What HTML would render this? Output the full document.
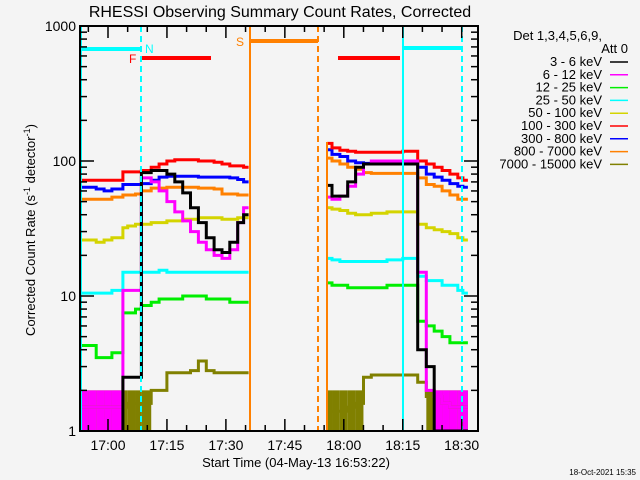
<!DOCTYPE html>
<html><head><meta charset="utf-8"><style>
body{margin:0;background:#f4f4f4;}
svg{display:block;font-family:"Liberation Sans",sans-serif;}
</style></head><body>
<svg id="c" width="640" height="480" viewBox="0 0 640 480">
<rect width="640" height="480" fill="#f4f4f4"/>
<text x="280" y="17" font-size="16" text-anchor="middle">RHESSI Observing Summary Count Rates, Corrected</text>
<g id="plot"></g>
<g id="axes"></g>
<text transform="translate(35,230) rotate(-90)" font-size="13" text-anchor="middle">Corrected Count Rate (s<tspan dy="-5" font-size="9">-1</tspan><tspan dy="5"> detector</tspan><tspan dy="-5" font-size="9">-1</tspan><tspan dy="5">)</tspan></text>
<text x="296" y="467" font-size="13" text-anchor="middle">Start Time (04-May-13 16:53:22)</text>
<text x="636" y="475" font-size="8" text-anchor="end">18-Oct-2021 15:35</text>
<g id="legend"></g>
</svg>
<script>
// times in minutes after 17:00; null separates data gap
const times=[-7,-5,-3,-1,1,3.8,5,7,8.5,11,13,15,17,19,21,23,25,27,29,31,33,34.5,null,55.7,57,59,61,63,65,67,69,71,73,75,77,78.8,81,83,85,87,89,90.3];
const labels=["3 - 6 keV","6 - 12 keV","12 - 25 keV","25 - 50 keV","50 - 100 keV","100 - 300 keV","300 - 800 keV","800 - 7000 keV","7000 - 15000 keV"];
const colors=["#000000","#ff00ff","#00ee00","#00ffff","#d4d400","#ff0000","#0000ff","#ff8000","#808000"];
const sOlive=[1.5,1.5,1.5,1.5,1.5,1.5,1.6,1.6,1.6,2,2,2.7,2.7,2.7,2.8,3.3,2.8,2.7,2.7,2.7,2.7,2.7,null,1.4,1.4,1.4,1.5,1.6,2.5,2.6,2.6,2.6,2.6,2.6,2.6,2.3,1.8,1.8,1.6,1.5,1.5,1.5];
const sGreen=[4.3,4.3,3.5,3.5,3.8,7.5,7.5,8,8.5,9,9.5,9.5,9.5,10,10,10,9.5,9.5,9.5,9,9,9,null,12.5,12,12,11.5,11.5,11.5,11.5,11.5,12,12,12,12,6.5,6,5.5,5,4.5,4.5,4.5];
const sCyan=[10.5,10.5,10.5,10.5,11,15,15,15,15,15,15.5,15,15,15,15,15,15,15,15,15,15,15,null,19,18.5,18,18,18,18,18,18,18.5,18.5,19,19,14,13,13,12,12,11,10.5];
const sYellow=[26,26,25,26,27,32,33,34,34,35,35,36,36,37,37,38,38,38,37,37,38,38,null,45,44,43,41,40,40,41,41,42,42,42,42,34,32,31,30,29,27,26];
const sOrange=[52,52,52,52,54,56,56,57,60,63,63,64,64,64,64,63,63,62,57,57,56,56,null,105,100,95,90,87,82,81,81,81,81,81,81,75,67,65,60,56,52,52];
const sBlue=[64,64,62,60,62,67,67,67,68,72,76,77,77,77,77,76,76,76,76,75,73,70,null,121,112,108,100,97,96,96,96,96,96,96,95,90,80,76,72,68,65,64];
const sRed=[72,72,72,72,72,83,83,83,85,90,95,100,102,102,102,100,100,98,95,92,92,90,null,135,125,120,118,116,116,116,116,116,116,118,118,100,95,90,85,80,75,72];
const sMagenta=[1.5,1.5,1.5,1.5,1.5,11,11,11,75,70,60,50,42,36,30,25,22,20,19,22,35,45,null,54,52,55,65,80,95,100,100,100,100,100,100,15,2,1.8,1.6,1.5,1.5,1.5];
const sBlack=[0.9,0.9,0.9,0.9,0.9,2.5,2.5,2.5,82,85,85,80,70,58,45,35,27,22,21,25,35,40,null,66,55,55,70,90,95,95,95,95,95,95,95,4,3,1,1,1,1,1];
const xTickMin=[-5,0,5,10,15,20,25,30,35,40,45,50,55,60,65,70,75,80,85,90];
const xTickLabels=["17:00","17:15","17:30","17:45","18:00","18:15","18:30"];
const xTickMajor=[0,15,30,45,60,75,90];
const yTickLabels=["1","10","100","1000"];

const NS="http://www.w3.org/2000/svg";
const L=80,R=478,T=26,B=431;
const xs=t=>108+t*3.93;
const ys=v=>B-135*Math.log10(v);
function mk(tag,attrs,parent){const e=document.createElementNS(NS,tag);for(const k in attrs)e.setAttribute(k,attrs[k]);parent.appendChild(e);return e;}
const plot=document.getElementById('plot'),axes=document.getElementById('axes'),leg=document.getElementById('legend');
const svg=document.getElementById('c');
const defs=mk('defs',{},svg);const cp=mk('clipPath',{id:'clip'},defs);mk('rect',{x:L,y:T,width:R-L,height:B-T},cp);
plot.setAttribute('clip-path','url(#clip)');

function nextX(i){return (i+1<times.length&&times[i+1]!==null)?xs(times[i+1]):xs(times[i])+5;}
// quantized low-count blocks (values below 2 counts shown as solid 1-2 band)
[[sOlive,8],[sMagenta,1]].forEach(([vals,ci])=>{
  for(let i=0;i<times.length;i++){
    if(times[i]===null||vals[i]===null||vals[i]>=2)continue;
    const x=xs(times[i]);
    const r=mk('rect',{x:x,y:ys(2),width:nextX(i)-x,height:ys(1)-ys(2),fill:colors[ci]},plot);
    
    
  }
});

const order=[[sOlive,8],[sGreen,2],[sCyan,3],[sYellow,4],[sOrange,7],[sBlue,6],[sRed,5],[sMagenta,1],[sBlack,0]];
order.forEach(([vals,ci])=>{
  let d='';let started=false;
  for(let i=0;i<times.length;i++){
    if(times[i]===null||vals[i]===null){started=false;continue;}
    const x=xs(times[i]),y=ys(vals[i]);
    if(!started){d+='M'+x.toFixed(1)+','+y.toFixed(1);started=true;}
    else{d+='V'+y.toFixed(1);d+='H'+x.toFixed(1);}
    d+='H'+nextX(i).toFixed(1);
  }
  const p=mk('path',{d:d,fill:'none',stroke:colors[ci],'stroke-width':3},plot);
  
  
});

function ln(x1,y1,x2,y2,c,w,dash,name){const e=mk('line',{x1,y1,x2,y2,stroke:c,'stroke-width':w},axes);if(dash)e.setAttribute('stroke-dasharray',dash);

}
ln(81,T,81,B,'#00ffff',2,null,'saa-start-line');
ln(403,T,403,B,'#00ffff',2,null,'saa-line-2');
ln(141,T,141,B,'#00ffff',2,'6,4','night-end-line');
ln(462,T,462,B,'#00ffff',2,'6,4','night-end-line-2');
ln(81,49,141,49,'#00ffff',4,null,'night-bar-1');
ln(403,48,462,48,'#00ffff',4,null,'night-bar-2');
ln(142,58,211,58,'#ff0000',4,null,'flare-bar-1');
ln(338,58,400,58,'#ff0000',4,null,'flare-bar-2');
ln(250,T,250,B,'#ff8000',2,null,'saa-orange-line');
ln(318,T,318,B,'#ff8000',2,'6,4','saa-orange-end');
ln(250,41,318,41,'#ff8000',4,null,'saa-bar');
ln(327,142,327,B,'#ff8000',2,null,'segment-start-line');
function tx(x,y,s,c,size,anchor,name){const e=mk('text',{x,y,fill:c,'font-size':size,'text-anchor':anchor||'start'},axes);e.textContent=s;

return e;}
tx(145,53,'N','#00ffff',12,'start','night-label');
tx(129,63,'F','#ff0000',12,'start','flare-label');
tx(236,46,'S','#ff8000',12,'start','saa-label');

const fr=mk('rect',{x:L,y:T,width:R-L,height:B-T,fill:'none',stroke:'#000','stroke-width':2},axes);


xTickMin.forEach(t=>{const x=xs(t);const big=xTickMajor.includes(t);const h=big?12:6;
  ln(x,B,x,B-h,'#000',1.5,null,'x-tick');ln(x,T,x,T+h,'#000',1.5,null,'x-tick-top');});
xTickMajor.forEach((t,i)=>tx(xs(t),450,xTickLabels[i],'#000',14,'middle','x-tick-label'));
for(let d=0;d<3;d++){for(let m=1;m<=9;m++){const v=Math.pow(10,d)*m;const y=ys(v);const h=m===1?14:7;
  ln(L,y,L+h,y,'#000',1.5,null,'y-tick');ln(R,y,R-h,y,'#000',1.5,null,'y-tick-right');}}
yTickLabels.forEach((s,i)=>tx(76,ys(Math.pow(10,i))+5,s,'#000',14,'end','y-tick-label'));

tx(602,40,'Det 1,3,4,5,6,9,','#000',13,'end','legend-detectors');
tx(628,53,'Att 0','#000',13,'end','legend-attenuator');
labels.forEach((s,i)=>{const y=62+i*12.8;
  const t=tx(602,y+4,s,'#000',13,'end','legend-label');
  const l=mk('line',{x1:610,y1:y,x2:628,y2:y,stroke:colors[i],'stroke-width':1.5},leg);
  
  
  leg.appendChild(t);});
</script>
</body></html>
